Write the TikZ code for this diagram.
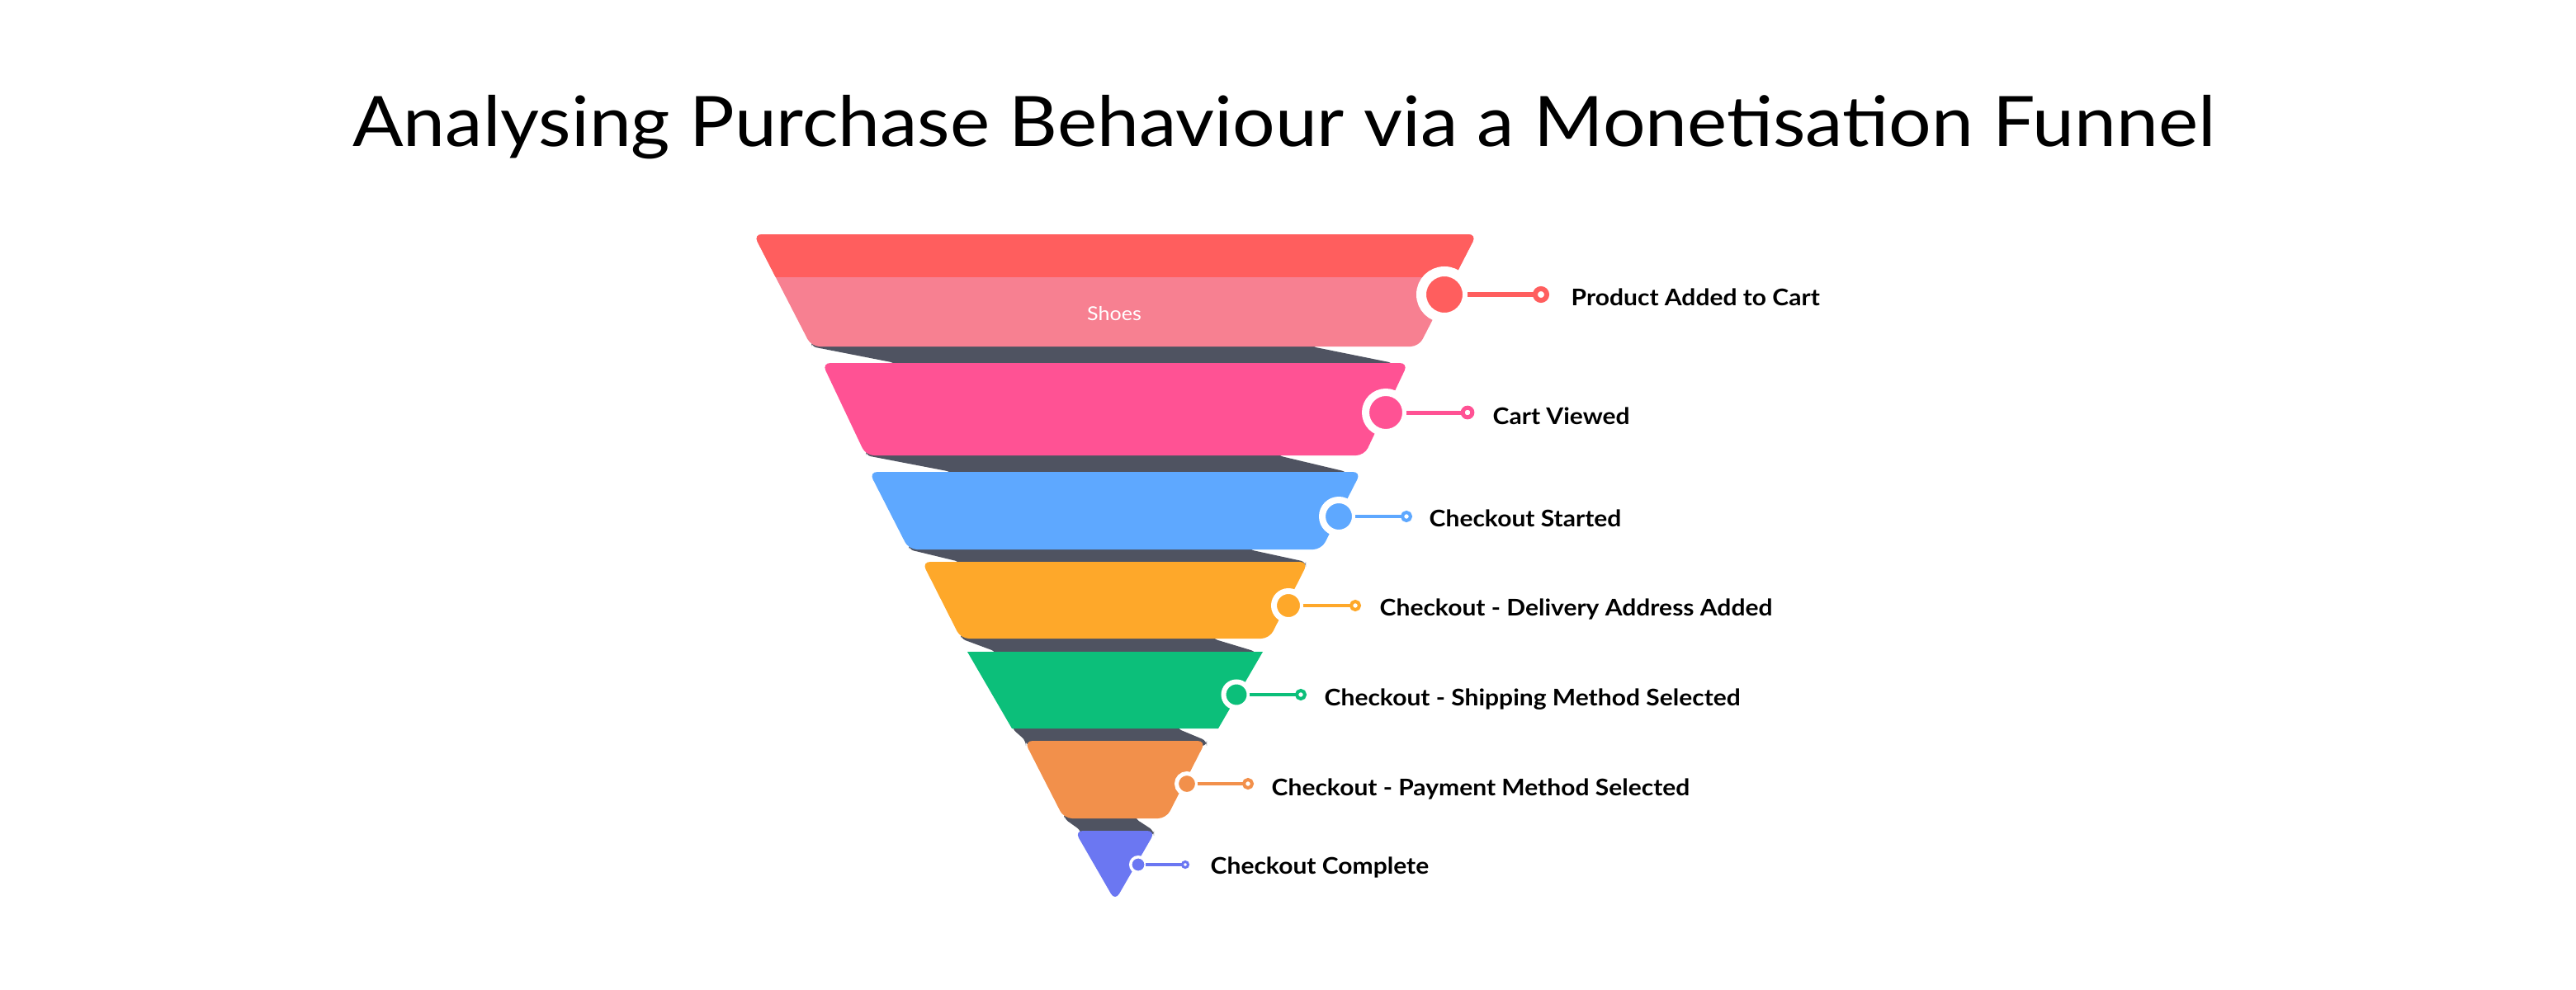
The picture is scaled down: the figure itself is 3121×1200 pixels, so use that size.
\documentclass[tikz,border=0pt]{standalone}
\usepackage{fontspec}
\setmainfont{Lato}[FakeStretch=1.08]
\usetikzlibrary{positioning}
\definecolor{funnelred}{RGB}{255, 94, 94}
\definecolor{funnelrose}{RGB}{247, 128, 145}
\definecolor{funnelpink}{RGB}{255, 82, 148}
\definecolor{funnelblue}{RGB}{94, 168, 255}
\definecolor{funnelamber}{RGB}{254, 168, 42}
\definecolor{funnelgreen}{RGB}{12, 191, 122}
\definecolor{funnelorange}{RGB}{242, 144, 75}
\definecolor{funnelviolet}{RGB}{107, 119, 242}
\definecolor{shadowgray}{RGB}{79, 83, 97}
\tikzset{
    segment/.style={
        rounded corners=1mm
    },
    backface/.style={
        fill=shadowgray, rounded corners=0.6mm
    },
    stepdot/.style={
        circle, draw=white, fill=#1, inner sep=0pt, outer sep=0pt
    },
    stepring/.style={
        circle, draw=#1, fill=white, inner sep=0pt, outer sep=0pt
    },
    steplabel/.style={
        anchor=base west, inner sep=0pt, font=\bfseries\fontsize{7.9}{9.5}\selectfont
    }
}

\begin{document}
\begin{tikzpicture}[x=0.01cm, y=-0.01cm]
        % --- 0. KHUNG ---
        \useasboundingbox[fill=white] (0,0) rectangle (3121,1200);

        % --- 1. TIEU DE ---
        \node[anchor=base, inner sep=0pt, font=\fontsize{24}{29}\selectfont] (title) at (1556,177)
            {Analysing Purchase Behaviour via a Monetisation Funnel};

        % --- 2. MAT SAU (BONG) ---
        \fill[backface] (983,414) -- (1589,414) -- (1589,420) -- (1688,440) -- (1688,446) -- (1085,446) -- (1085,440) -- (983,420) -- cycle;
        \fill[backface] (1049,546) -- (1548,546) -- (1548,552) -- (1632,572) -- (1632,578) -- (1153,578) -- (1153,572) -- (1049,552) -- cycle;
        \fill[backface] (1101,660) -- (1513,660) -- (1513,666) -- (1582,681) -- (1582,687) -- (1163,687) -- (1163,681) -- (1101,666) -- cycle;
        \fill[backface] (1164,768) -- (1469,768) -- (1469,774) -- (1522,790) -- (1522,796) -- (1207,796) -- (1207,790) -- (1164,774) -- cycle;
        \fill[backface] (1226,877) -- (1426,877) -- (1426,883) -- (1462,898) -- (1462,904) -- (1243,904) -- (1243,898) -- (1226,883) -- cycle;
        \fill[backface] (1289,986) -- (1375,986) -- (1375,992) -- (1398,1007) -- (1398,1013) -- (1310,1013) -- (1310,1007) -- (1289,992) -- cycle;

        % --- 3. CAC TANG PHEU ---
        \fill[segment, funnelrose] (913,284) -- (1789,284) -- (1719,420) -- (983,420) -- cycle;
        \begin{scope}
            \clip[segment] (913,284) -- (1789,284) -- (1719,420) -- (983,420) -- cycle;
            \fill[funnelred] (900,270) rectangle (1800,336);
        \end{scope}
        \fill[segment, funnelpink] (996,440) -- (1706,440) -- (1653,552) -- (1049,552) -- cycle;
        \fill[segment, funnelblue] (1053,572) -- (1649,572) -- (1601,666) -- (1101,666) -- cycle;
        \fill[segment, funnelamber] (1117,681) -- (1585,681) -- (1538,774) -- (1164,774) -- cycle;
        \fill[funnelgreen] (1172,790) -- (1530,790) -- (1476,883) -- (1226,883) -- cycle;
        \fill[segment, funnelorange] (1241,898) -- (1461,898) -- (1413,992) -- (1289,992) -- cycle;
        \fill[segment, funnelviolet] (1302,1007) -- (1400,1007) -- (1351,1092) -- cycle;

        \node[white, inner sep=0pt, anchor=base, font=\fontsize{6.6}{8}\selectfont] (shoes) at (1350,388) {Shoes};

        % --- 4. DAU CHAM VA VONG ---
        \node[stepring=funnelred, minimum size=1.4mm, line width=0.6mm] (ring1) at (1867,357) {};
        \node[stepring=funnelpink, minimum size=1.16mm, line width=0.5mm] (ring2) at (1778,500) {};
        \node[stepring=funnelblue, minimum size=1mm, line width=0.4mm] (ring3) at (1704,626) {};
        \node[stepring=funnelamber, minimum size=1mm, line width=0.4mm] (ring4) at (1642,734) {};
        \node[stepring=funnelgreen, minimum size=1mm, line width=0.4mm] (ring5) at (1576,842) {};
        \node[stepring=funnelorange, minimum size=1mm, line width=0.4mm] (ring6) at (1512,950) {};
        \node[stepring=funnelviolet, minimum size=0.7mm, line width=0.3mm] (ring7) at (1436,1048) {};

        \node[stepdot=funnelred, minimum size=5.6mm, line width=1.2mm] (dot1) at (1750,357) {};
        \node[stepdot=funnelpink, minimum size=4.9mm, line width=0.9mm] (dot2) at (1679,500) {};
        \node[stepdot=funnelblue, minimum size=4mm, line width=0.8mm] (dot3) at (1622,626) {};
        \node[stepdot=funnelamber, minimum size=3.5mm, line width=0.7mm] (dot4) at (1561,734) {};
        \node[stepdot=funnelgreen, minimum size=3.1mm, line width=0.6mm] (dot5) at (1498,842) {};
        \node[stepdot=funnelorange, minimum size=2.5mm, line width=0.5mm] (dot6) at (1438,950) {};
        \node[stepdot=funnelviolet, minimum size=1.85mm, line width=0.35mm] (dot7) at (1379,1048) {};

        % --- 5. DUONG NOI ---
        \draw[funnelred, line width=0.6mm] (dot1) -- (ring1);
        \draw[funnelpink, line width=0.5mm] (dot2) -- (ring2);
        \draw[funnelblue, line width=0.45mm] (dot3) -- (ring3);
        \draw[funnelamber, line width=0.45mm] (dot4) -- (ring4);
        \draw[funnelgreen, line width=0.45mm] (dot5) -- (ring5);
        \draw[funnelorange, line width=0.45mm] (dot6) -- (ring6);
        \draw[funnelviolet, line width=0.35mm] (dot7) -- (ring7);

        % --- 6. NHAN ---
        \node[steplabel] (lbl1) at (1903,370) {Product Added to Cart};
        \node[steplabel] (lbl2) at (1808,514) {Cart Viewed};
        \node[steplabel] (lbl3) at (1731,638) {Checkout Started};
        \node[steplabel] (lbl4) at (1671,746) {Checkout - Delivery Address Added};
        \node[steplabel] (lbl5) at (1604,855) {Checkout - Shipping Method Selected};
        \node[steplabel] (lbl6) at (1540,964) {Checkout - Payment Method Selected};
        \node[steplabel] (lbl7) at (1466,1059) {Checkout Complete};

    \end{tikzpicture}
\end{document}
